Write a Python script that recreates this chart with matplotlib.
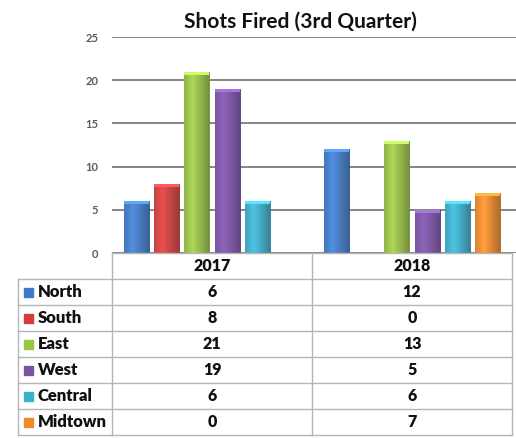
import numpy as np
import matplotlib.pyplot as plt
import matplotlib.colors as mcolors

# data
years = ['2017', '2018']
regions = ['North', 'South', 'East', 'West', 'Central', 'Midtown']
north = [6, 12]
south = [8, 0]
east = [21, 13]
west = [19, 5]
central = [6, 6]
midtown = [0, 7]
series = [north, south, east, west, central, midtown]
colors = ['#3d7acb', '#d63b3b', '#9ac443', '#7b50a8', '#38b0d0', '#f28a26']
yticks = [0, 5, 10, 15, 20, 25]

W, H = 516, 438
plt.rcParams['font.family'] = ['Lato', 'DejaVu Sans']
fig = plt.figure(figsize=(W / 100, H / 100), dpi=100)

# chart area (pixel layout converted to figure fractions)
left, right, top, bottom = 112, 516, 37, 253
ax = fig.add_axes([left / W, 1 - bottom / H, (right - left) / W, (bottom - top) / H])
ax.set_xlim(-0.5, 1.52)
ax.set_ylim(0, 25)
ax.set_yticks(yticks)
ax.set_xticks([])
ax.yaxis.grid(True, color='#7c7c7c', linewidth=1.3)
ax.set_axisbelow(True)
for s in ax.spines.values():
    s.set_visible(False)
ax.tick_params(axis='y', length=0, pad=10, labelsize=8, labelcolor='#5a5a5a')
for lbl in ax.get_yticklabels():
    lbl.set_fontweight('bold')

x = np.arange(len(years))
step = 0.1515
bw = 0.125
for i, (vals, col) in enumerate(zip(series, colors)):
    off = (i - 2.5) * step
    bars = ax.bar(x + off, vals, bw, color=col, edgecolor=mcolors.to_hex(np.array(mcolors.to_rgb(col)) * 0.7),
                  linewidth=0.6, zorder=2)
    # shaded look
    base = np.array(mcolors.to_rgb(col))
    grad = np.linspace(0, 1, 50)
    shade = 1.0 - 0.35 * np.abs(grad - 0.35) * 1.6
    img = np.clip(base[None, None, :] * shade[None, :, None] + 0.08, 0, 1)
    for b in bars:
        if b.get_height() <= 0:
            continue
        im = ax.imshow(img, extent=[b.get_x(), b.get_x() + b.get_width(), 0, b.get_height()],
                       aspect='auto', zorder=2.5, interpolation='bilinear')
        im.set_clip_path(b)
        cap = min(0.35, b.get_height())
        ax.bar(b.get_x() + b.get_width() / 2, cap, b.get_width(), bottom=b.get_height() - cap,
               color=np.clip(base * 1.15 + 0.1, 0, 1), edgecolor='none', zorder=2.6)

ax.set_title('Shots Fired (3rd Quarter)', fontsize=15, fontweight='bold', color='#111111',
             x=(300 - left) / (right - left), pad=7)

# data table underneath
tab = fig.add_axes([0, 0, 1, 1])
tab.set_xlim(0, W)
tab.set_ylim(H, 0)
tab.axis('off')
lc = '#b5b5b5'
row_h = 26
y0 = 253
xs = [18, 112, 312, 512]
tab.plot([112, 512], [y0, y0], color=lc, lw=1)
for r in range(1, len(regions) + 2):
    yy = y0 + r * row_h
    tab.plot([18, 512], [yy, yy], color=lc, lw=1)
for xv in xs[1:]:
    tab.plot([xv, xv], [y0, y0 + (len(regions) + 1) * row_h], color=lc, lw=1)
tab.plot([18, 18], [y0 + row_h, y0 + (len(regions) + 1) * row_h], color=lc, lw=1)

for j, yr in enumerate(years):
    tab.text((xs[j + 1] + xs[j + 2]) / 2, y0 + row_h / 2, yr, ha='center', va='center',
             fontsize=11.5, fontweight='heavy', color='#111111')
for i, (name, vals, col) in enumerate(zip(regions, series, colors)):
    yc = y0 + (i + 1.5) * row_h
    tab.add_patch(plt.Rectangle((24, yc - 4.5), 9, 9, color=col))
    tab.text(38, yc, name, ha='left', va='center', fontsize=12, fontweight='heavy', color='#111111')
    for j in range(len(years)):
        tab.text((xs[j + 1] + xs[j + 2]) / 2, yc, str(vals[j]), ha='center', va='center',
                 fontsize=11.5, fontweight='heavy', color='#111111')

fig.savefig('out.png', dpi=100)
